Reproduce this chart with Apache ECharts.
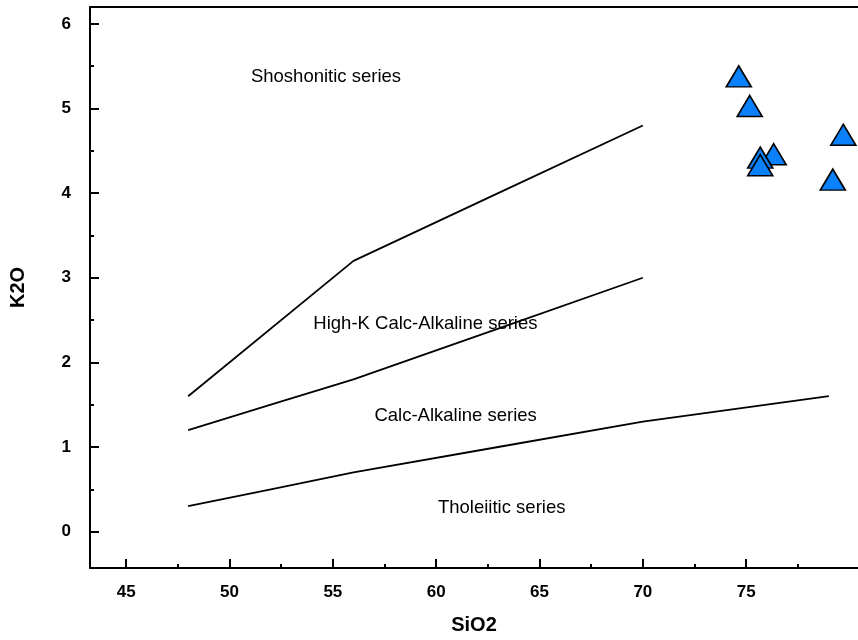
<!DOCTYPE html>
<html>
<head>
<meta charset="utf-8">
<script src="https://cdn.jsdelivr.net/npm/echarts@6/dist/echarts.min.js"></script>
<style>
  html, body { margin: 0; padding: 0; background: #fff; }
  #chart { width: 858px; height: 640px; }
</style>
</head>
<body>
<div id="chart"></div>
<script>
// K2O vs SiO2 classification (Peccerillo & Taylor style boundaries)
const xTicks = [45, 50, 55, 60, 65, 70, 75];
const xMinorTicks = [47.5, 52.5, 57.5, 62.5, 67.5, 72.5, 77.5];
const yTicks = [0, 1, 2, 3, 4, 5, 6];
const yMinorTicks = [0.5, 1.5, 2.5, 3.5, 4.5, 5.5];

// Boundary lines [SiO2, K2O]
const shoshoniticBoundary = [[48, 1.6], [56, 3.2], [63, 4.0], [70, 4.8]];
const highKBoundary = [[48, 1.2], [52, 1.5], [56, 1.8], [63, 2.4], [70, 3.0]];
const calcAlkalineBoundary = [[48, 0.3], [52, 0.5], [56, 0.7], [63, 1.0], [70, 1.3], [79, 1.6]];

// Sample analyses [SiO2, K2O]
const samples = [
  [74.64, 5.38],
  [75.17, 5.03],
  [79.70, 4.69],
  [76.33, 4.46],
  [75.68, 4.42],
  [75.68, 4.33],
  [79.19, 4.16]
];

// Field names and where they sit
const fieldNames = ['Shoshonitic series', 'High-K Calc-Alkaline series', 'Calc-Alkaline series', 'Tholeiitic series'];
const fieldPositions = [[54.67, 5.37], [59.48, 2.46], [60.94, 1.37], [63.17, 0.28]];

const X_MIN = 43.25, X_MAX = 80.41;
const Y_MIN = -0.43, Y_MAX = 6.2;

const font = 'Arial, "Liberation Sans", sans-serif';
const black = '#000';

const chart = echarts.init(document.getElementById('chart'), null, { renderer: 'canvas' });

function boundary(data) {
  return {
    type: 'line',
    data: data,
    xAxisIndex: 0, yAxisIndex: 0,
    symbol: 'none',
    silent: true,
    lineStyle: { color: black, width: 1.8 },
    z: 2
  };
}

const option = {
  backgroundColor: '#fff',
  animation: false,
  grid: { left: 87, top: 7, right: 0, bottom: 71, containLabel: false },
  xAxis: [
    {
      type: 'value', min: X_MIN, max: X_MAX, position: 'bottom',
      name: 'SiO2', nameLocation: 'middle', nameGap: 47,
      nameTextStyle: { fontFamily: font, fontWeight: 'bold', fontSize: 20, color: black },
      axisLine: { show: true, onZero: false, lineStyle: { color: black, width: 2 } },
      axisTick: { show: true, inside: true, length: 9, lineStyle: { color: black, width: 2 }, customValues: xTicks },
      axisLabel: { show: true, margin: 16, fontFamily: font, fontWeight: 'bold', fontSize: 17, color: black, customValues: xTicks },
      splitLine: { show: false }
    },
    {
      // minor ticks along the bottom
      type: 'value', min: X_MIN, max: X_MAX, position: 'bottom',
      axisLine: { show: false, onZero: false },
      axisTick: { show: true, inside: true, length: 4, lineStyle: { color: black, width: 2 }, customValues: xMinorTicks },
      axisLabel: { show: false },
      splitLine: { show: false }
    },
    {
      // top frame line
      type: 'value', min: X_MIN, max: X_MAX, position: 'top',
      axisLine: { show: true, onZero: false, lineStyle: { color: black, width: 2 } },
      axisTick: { show: false }, axisLabel: { show: false }, splitLine: { show: false }
    }
  ],
  yAxis: [
    {
      type: 'value', min: Y_MIN, max: Y_MAX, position: 'left',
      name: 'K2O', nameLocation: 'middle', nameGap: 62, nameRotate: 90,
      nameTextStyle: { fontFamily: font, fontWeight: 'bold', fontSize: 20, color: black },
      axisLine: { show: true, onZero: false, lineStyle: { color: black, width: 2 } },
      axisTick: { show: true, inside: true, length: 9, lineStyle: { color: black, width: 2 }, customValues: yTicks },
      axisLabel: { show: true, margin: 19, fontFamily: font, fontWeight: 'bold', fontSize: 17, color: black, customValues: yTicks },
      splitLine: { show: false }
    },
    {
      type: 'value', min: Y_MIN, max: Y_MAX, position: 'left',
      axisLine: { show: false, onZero: false },
      axisTick: { show: true, inside: true, length: 4, lineStyle: { color: black, width: 2 }, customValues: yMinorTicks },
      axisLabel: { show: false },
      splitLine: { show: false }
    }
  ],
  series: [
    boundary(shoshoniticBoundary),
    boundary(highKBoundary),
    boundary(calcAlkalineBoundary),
    {
      type: 'scatter',
      data: fieldPositions.map((p, i) => ({ value: p, name: fieldNames[i] })),
      symbolSize: 0,
      itemStyle: { color: black },
      silent: true,
      label: {
        show: true, position: 'inside', formatter: '{b}',
        fontFamily: font, fontSize: 18.5, color: '#000', opacity: 1
      },
      z: 3
    },
    {
      type: 'scatter',
      data: samples,
      symbol: 'triangle',
      symbolSize: [25, 21],
      itemStyle: { color: '#0a80fa', borderColor: black, borderWidth: 1.6, opacity: 1 },
      z: 5
    }
  ]
};

chart.setOption(option);
</script>
</body>
</html>
